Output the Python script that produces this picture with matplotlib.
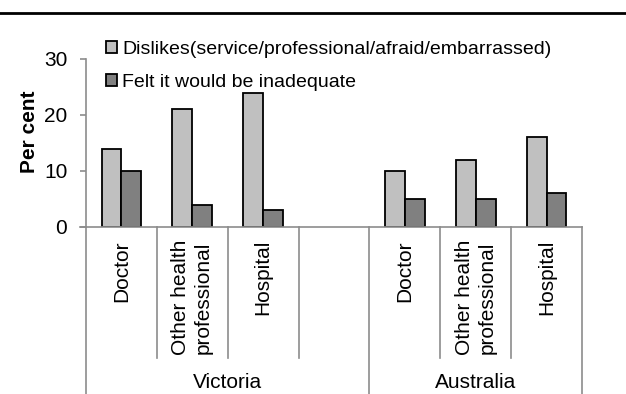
import numpy as np
import matplotlib
matplotlib.use("Agg")
import matplotlib.pyplot as plt
from matplotlib.lines import Line2D
from matplotlib.transforms import blended_transform_factory

plt.rcParams['font.family'] = ['Liberation Sans', 'DejaVu Sans']
plt.rcParams['font.size'] = 15

# data
categories = ['Doctor', 'Other health\nprofessional', 'Hospital', '',
              'Doctor', 'Other health\nprofessional', 'Hospital']
groups = ['Victoria', 'Australia']
dislikes = [14, 21, 24, np.nan, 10, 12, 16]
inadequate = [10, 4, 3, np.nan, 5, 5, 6]
series_names = ['Dislikes(service/professional/afraid/embarrassed)',
                'Felt it would be inadequate']
yticks = [0, 10, 20, 30]

W, H = 626, 394
fig = plt.figure(figsize=(W / 100, H / 100), dpi=100)
ax = fig.add_axes([86 / W, 1 - 227 / H, (582 - 86) / W, (227 - 59) / H])

x = np.arange(len(categories))
bw = 0.28
ax.bar(x - bw / 2, dislikes, bw, color='#C0C0C0', edgecolor='black', linewidth=1.3,
       label=series_names[0])
ax.bar(x + bw / 2, inadequate, bw, color='#808080', edgecolor='black', linewidth=1.3,
       label=series_names[1])

ax.set_xlim(-0.5, len(categories) - 0.5)
ax.set_ylim(0, 30)
ax.set_yticks(yticks)
ax.set_xticks([])
for s in ['top', 'right']:
    ax.spines[s].set_visible(False)
for s in ['left', 'bottom']:
    ax.spines[s].set_color('#8c8c8c')
    ax.spines[s].set_linewidth(1.2)
ax.tick_params(axis='y', colors='#8c8c8c', labelcolor='black', length=4.5, width=1.2, pad=9)

# multi-level category axis
tr = blended_transform_factory(ax.transData, ax.transAxes)
inner_bottom = (227 - 358) / (227 - 59)
outer_bottom = (227 - 400) / (227 - 59)
group_edges = [-0.5, 3.5, 6.5]
for b in np.arange(-0.5, len(categories), 1.0):
    y1 = outer_bottom if b in group_edges else inner_bottom
    ax.add_line(Line2D([b, b], [0, y1], transform=tr, color='#8c8c8c', lw=1.2,
                       clip_on=False))
ax.plot([-0.5 - 0.08, -0.5], [0, 0], transform=tr, color='#8c8c8c', lw=1.2, clip_on=False)

lab_top = (227 - 240) / (227 - 59)
for xi, c in zip(x, categories):
    if c:
        ax.text(xi, lab_top, c, transform=tr, rotation=90, ha='center', va='top',
                multialignment='center', linespacing=1.25)

grp_y = (227 - 383) / (227 - 59)
ax.text(1.5, grp_y, groups[0], transform=tr, ha='center', va='center')
ax.text(5.0, grp_y, groups[1], transform=tr, ha='center', va='center')

ax.text(-0.114, 0.565, 'Per cent', transform=ax.transAxes, rotation=90,
        ha='center', va='center', fontweight='bold')

ax.legend(loc='upper left', bbox_to_anchor=(106 / W, 1 - 41 / H),
          bbox_transform=fig.transFigure, frameon=False, borderpad=0,
          borderaxespad=0, handlelength=0.56, handleheight=0.56,
          handletextpad=0.28, labelspacing=0.8, fontsize=14)

fig.add_artist(Line2D([0, 1], [1 - 13 / H] * 2, transform=fig.transFigure,
                      color='black', lw=2))

fig.savefig('out.png', dpi=100)
